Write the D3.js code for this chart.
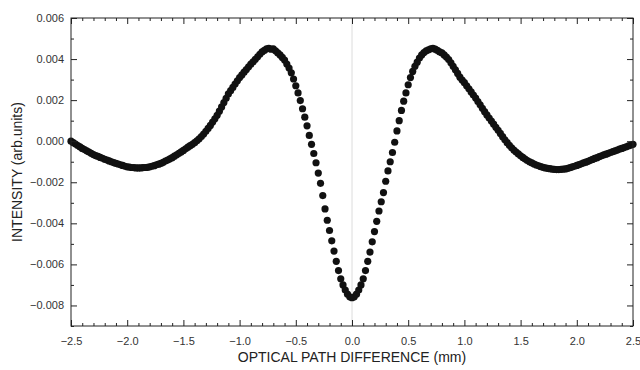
<!DOCTYPE html>
<html><head><meta charset="utf-8">
<script src="https://cdn.jsdelivr.net/npm/d3@7"></script>
<style>
body{margin:0;background:#fff}
svg{display:block}
text{font-family:"Liberation Sans",Arial,Helvetica,sans-serif}
</style>
</head><body>
<svg id="chart" width="640" height="370"></svg>
<script>
// Optical path difference (mm)
const opd = [
-2.50,-2.48,-2.46,-2.44,-2.42,-2.40,-2.38,-2.36,-2.34,-2.32,-2.30,-2.28,-2.26,-2.24,-2.22,-2.20,
-2.18,-2.16,-2.14,-2.12,-2.10,-2.08,-2.06,-2.04,-2.02,-2.00,-1.98,-1.96,-1.94,-1.92,-1.90,
-1.88,-1.86,-1.84,-1.82,-1.80,-1.78,-1.76,-1.74,-1.72,-1.70,-1.68,-1.66,-1.64,-1.62,-1.60,
-1.58,-1.56,-1.54,-1.52,-1.50,-1.48,-1.46,-1.44,-1.42,-1.40,-1.38,-1.36,-1.34,-1.32,-1.30,
-1.28,-1.26,-1.24,-1.22,-1.20,-1.18,-1.16,-1.14,-1.12,-1.10,-1.08,-1.06,-1.04,-1.02,-1.00,
-0.98,-0.96,-0.94,-0.92,-0.90,-0.88,-0.86,-0.84,-0.82,-0.80,-0.78,-0.76,-0.74,-0.72,-0.70,
-0.68,-0.66,-0.64,-0.62,-0.60,-0.58,-0.56,-0.54,-0.52,-0.50,-0.48,-0.46,-0.44,-0.42,-0.40,
-0.38,-0.36,-0.34,-0.32,-0.30,-0.28,-0.26,-0.24,-0.22,-0.20,-0.18,-0.16,-0.14,-0.12,-0.10,
-0.08,-0.06,-0.04,-0.02,0.00,
0.02,0.04,0.06,0.08,0.10,0.12,0.14,0.16,0.18,0.20,0.22,0.24,0.26,0.28,0.30,
0.32,0.34,0.36,0.38,0.40,0.42,0.44,0.46,0.48,0.50,0.52,0.54,0.56,0.58,0.60,
0.62,0.64,0.66,0.68,0.70,0.72,0.74,0.76,0.78,0.80,0.82,0.84,0.86,0.88,0.90,
0.92,0.94,0.96,0.98,1.00,1.02,1.04,1.06,1.08,1.10,1.12,1.14,1.16,1.18,1.20,
1.22,1.24,1.26,1.28,1.30,1.32,1.34,1.36,1.38,1.40,1.42,1.44,1.46,1.48,1.50,
1.52,1.54,1.56,1.58,1.60,1.62,1.64,1.66,1.68,1.70,1.72,1.74,1.76,1.78,1.80,
1.82,1.84,1.86,1.88,1.90,1.92,1.94,1.96,1.98,2.00,2.02,2.04,2.06,2.08,2.10,
2.12,2.14,2.16,2.18,2.20,2.22,2.24,2.26,2.28,2.30,2.32,2.34,2.36,2.38,2.40,
2.42,2.44,2.46,2.48,2.50
];
// Intensity (arb. units)
const intensity = [
0.00000,-0.00007,-0.00014,-0.00021,-0.00028,-0.00035,
-0.00041,-0.00047,-0.00053,-0.00059,-0.00065,
-0.00070,-0.00074,-0.00079,-0.00083,-0.00088,
-0.00092,-0.00096,-0.00100,-0.00104,-0.00108,
-0.00111,-0.00115,-0.00118,-0.00122,-0.00125,
-0.00126,-0.00128,-0.00129,-0.00130,-0.00130,
-0.00130,-0.00129,-0.00128,-0.00127,-0.00125,
-0.00122,-0.00119,-0.00115,-0.00112,-0.00108,
-0.00103,-0.00097,-0.00092,-0.00086,-0.00080,
-0.00073,-0.00066,-0.00059,-0.00052,-0.00045,
-0.00037,-0.00029,-0.00022,-0.00015,-0.00007,
0.00002,0.00012,0.00023,0.00035,0.00048,
0.00062,0.00077,0.00093,0.00109,0.00126,
0.00146,0.00167,0.00188,0.00209,0.00230,
0.00246,0.00262,0.00278,0.00294,0.00310,
0.00323,0.00336,0.00349,0.00362,0.00375,
0.00387,0.00399,0.00411,0.00423,0.00435,
0.00442,0.00450,0.00452,0.00448,0.00450,
0.00440,0.00430,0.00420,0.00408,0.00395,
0.00376,0.00356,0.00333,0.00303,0.00270,
0.00235,0.00198,0.00158,0.00117,0.00075,
0.00028,-0.00015,-0.00060,-0.00105,-0.00155,
-0.00205,-0.00265,-0.00330,-0.00385,-0.00435,
-0.00485,-0.00535,-0.00585,-0.00630,-0.00670,
-0.00700,-0.00725,-0.00745,-0.00758,-0.00762,
-0.00758,-0.00745,-0.00725,-0.00700,-0.00670,
-0.00630,-0.00585,-0.00540,-0.00490,-0.00440,
-0.00390,-0.00340,-0.00295,-0.00250,-0.00195,
-0.00145,-0.00100,-0.00055,-0.00005,0.00050,
0.00100,0.00150,0.00195,0.00235,0.00275,
0.00310,0.00340,0.00365,0.00385,0.00405,
0.00420,0.00432,0.00440,0.00445,0.00450,
0.00452,0.00448,0.00442,0.00435,0.00430,
0.00420,0.00410,0.00398,0.00382,0.00365,
0.00348,0.00330,0.00312,0.00298,0.00285,
0.00270,0.00255,0.00240,0.00225,0.00210,
0.00193,0.00177,0.00160,0.00144,0.00128,
0.00113,0.00098,0.00083,0.00068,0.00053,
0.00038,0.00022,0.00007,-0.00007,-0.00020,
-0.00032,-0.00043,-0.00053,-0.00062,-0.00071,
-0.00079,-0.00087,-0.00094,-0.00100,-0.00106,
-0.00111,-0.00116,-0.00120,-0.00124,-0.00127,
-0.00130,-0.00132,-0.00134,-0.00136,-0.00137,
-0.00138,-0.00138,-0.00137,-0.00136,-0.00135,
-0.00132,-0.00129,-0.00125,-0.00122,-0.00118,
-0.00114,-0.00110,-0.00106,-0.00102,-0.00098,
-0.00093,-0.00089,-0.00084,-0.00080,-0.00075,
-0.00071,-0.00067,-0.00063,-0.00059,-0.00055,
-0.00051,-0.00047,-0.00043,-0.00039,-0.00035,
-0.00031,-0.00027,-0.00023,-0.00019,-0.00015
];
const xTickValues = [-2.5,-2.0,-1.5,-1.0,-0.5,0.0,0.5,1.0,1.5,2.0,2.5];
const xMinorTicks = [-2.4,-2.3,-2.2,-2.1,-1.9,-1.8,-1.7,-1.6,-1.4,-1.3,-1.2,-1.1,-0.9,-0.8,-0.7,-0.6,-0.4,-0.3,-0.2,-0.1,
  0.1,0.2,0.3,0.4,0.6,0.7,0.8,0.9,1.1,1.2,1.3,1.4,1.6,1.7,1.8,1.9,2.1,2.2,2.3,2.4];
const yTickValues = [-0.008,-0.006,-0.004,-0.002,0.000,0.002,0.004,0.006];
const yMinorTicks = [-0.009,-0.007,-0.005,-0.003,-0.001,0.001,0.003,0.005];
const xLabel = "OPTICAL PATH DIFFERENCE (mm)";
const yLabel = "INTENSITY (arb.units)";

const W = 640, H = 370;
const m = {left:71, right:7, top:18, bottom:44};
const svg = d3.select("#chart");
const x = d3.scaleLinear().domain([-2.5,2.5]).range([m.left, W-m.right]);
const y = d3.scaleLinear().domain([-0.009,0.006]).range([H-m.bottom, m.top]);

// zero line
svg.append("line")
  .attr("x1", x(0)).attr("x2", x(0))
  .attr("y1", m.top).attr("y2", H-m.bottom)
  .attr("stroke", "#dcdcdc").attr("stroke-width", 1);

// points
const pts = opd.map((v,i)=>({x:v, y:intensity[i]}));
svg.append("g").selectAll("circle").data(pts).join("circle")
  .attr("cx", d=>x(d.x)).attr("cy", d=>y(d.y)).attr("r", 3.6)
  .attr("fill", "#111");

function styleAxis(g){
  g.select(".domain").remove();
  g.selectAll("line").attr("stroke","#222");
  g.selectAll("text").attr("fill","#333").attr("font-size","11px");
}

const fx = d3.format(".1f"), fy = d3.format(".3f");
// bottom
svg.append("g").attr("transform",`translate(0,${H-m.bottom})`)
  .call(d3.axisBottom(x).tickValues(xTickValues).tickFormat(fx).tickSize(-6).tickPadding(11))
  .call(styleAxis);
svg.append("g").attr("transform",`translate(0,${H-m.bottom})`)
  .call(d3.axisBottom(x).tickValues(xMinorTicks).tickFormat("").tickSize(-3))
  .call(styleAxis);
// top
svg.append("g").attr("transform",`translate(0,${m.top})`)
  .call(d3.axisTop(x).tickValues(xTickValues).tickFormat("").tickSize(-6))
  .call(styleAxis);
svg.append("g").attr("transform",`translate(0,${m.top})`)
  .call(d3.axisTop(x).tickValues(xMinorTicks).tickFormat("").tickSize(-3))
  .call(styleAxis);
// left
svg.append("g").attr("transform",`translate(${m.left},0)`)
  .call(d3.axisLeft(y).tickValues(yTickValues).tickFormat(fy).tickSize(-6).tickPadding(7))
  .call(styleAxis);
svg.append("g").attr("transform",`translate(${m.left},0)`)
  .call(d3.axisLeft(y).tickValues(yMinorTicks).tickFormat("").tickSize(-3))
  .call(styleAxis);
// right
svg.append("g").attr("transform",`translate(${W-m.right},0)`)
  .call(d3.axisRight(y).tickValues(yTickValues).tickFormat("").tickSize(-6))
  .call(styleAxis);
svg.append("g").attr("transform",`translate(${W-m.right},0)`)
  .call(d3.axisRight(y).tickValues(yMinorTicks).tickFormat("").tickSize(-3))
  .call(styleAxis);

// frame
svg.append("rect")
  .attr("x", m.left).attr("y", m.top)
  .attr("width", W-m.left-m.right).attr("height", H-m.top-m.bottom)
  .attr("fill","none").attr("stroke","#222").attr("stroke-width",1);

// titles
svg.append("text")
  .attr("x", (m.left + W - m.right)/2).attr("y", 362)
  .attr("text-anchor","middle").attr("font-size","14px").attr("fill","#222")
  .text(xLabel);
svg.append("text")
  .attr("transform","translate(22,172) rotate(-90)")
  .attr("text-anchor","middle").attr("font-size","14px").attr("fill","#222")
  .text(yLabel);
</script>
</body></html>
